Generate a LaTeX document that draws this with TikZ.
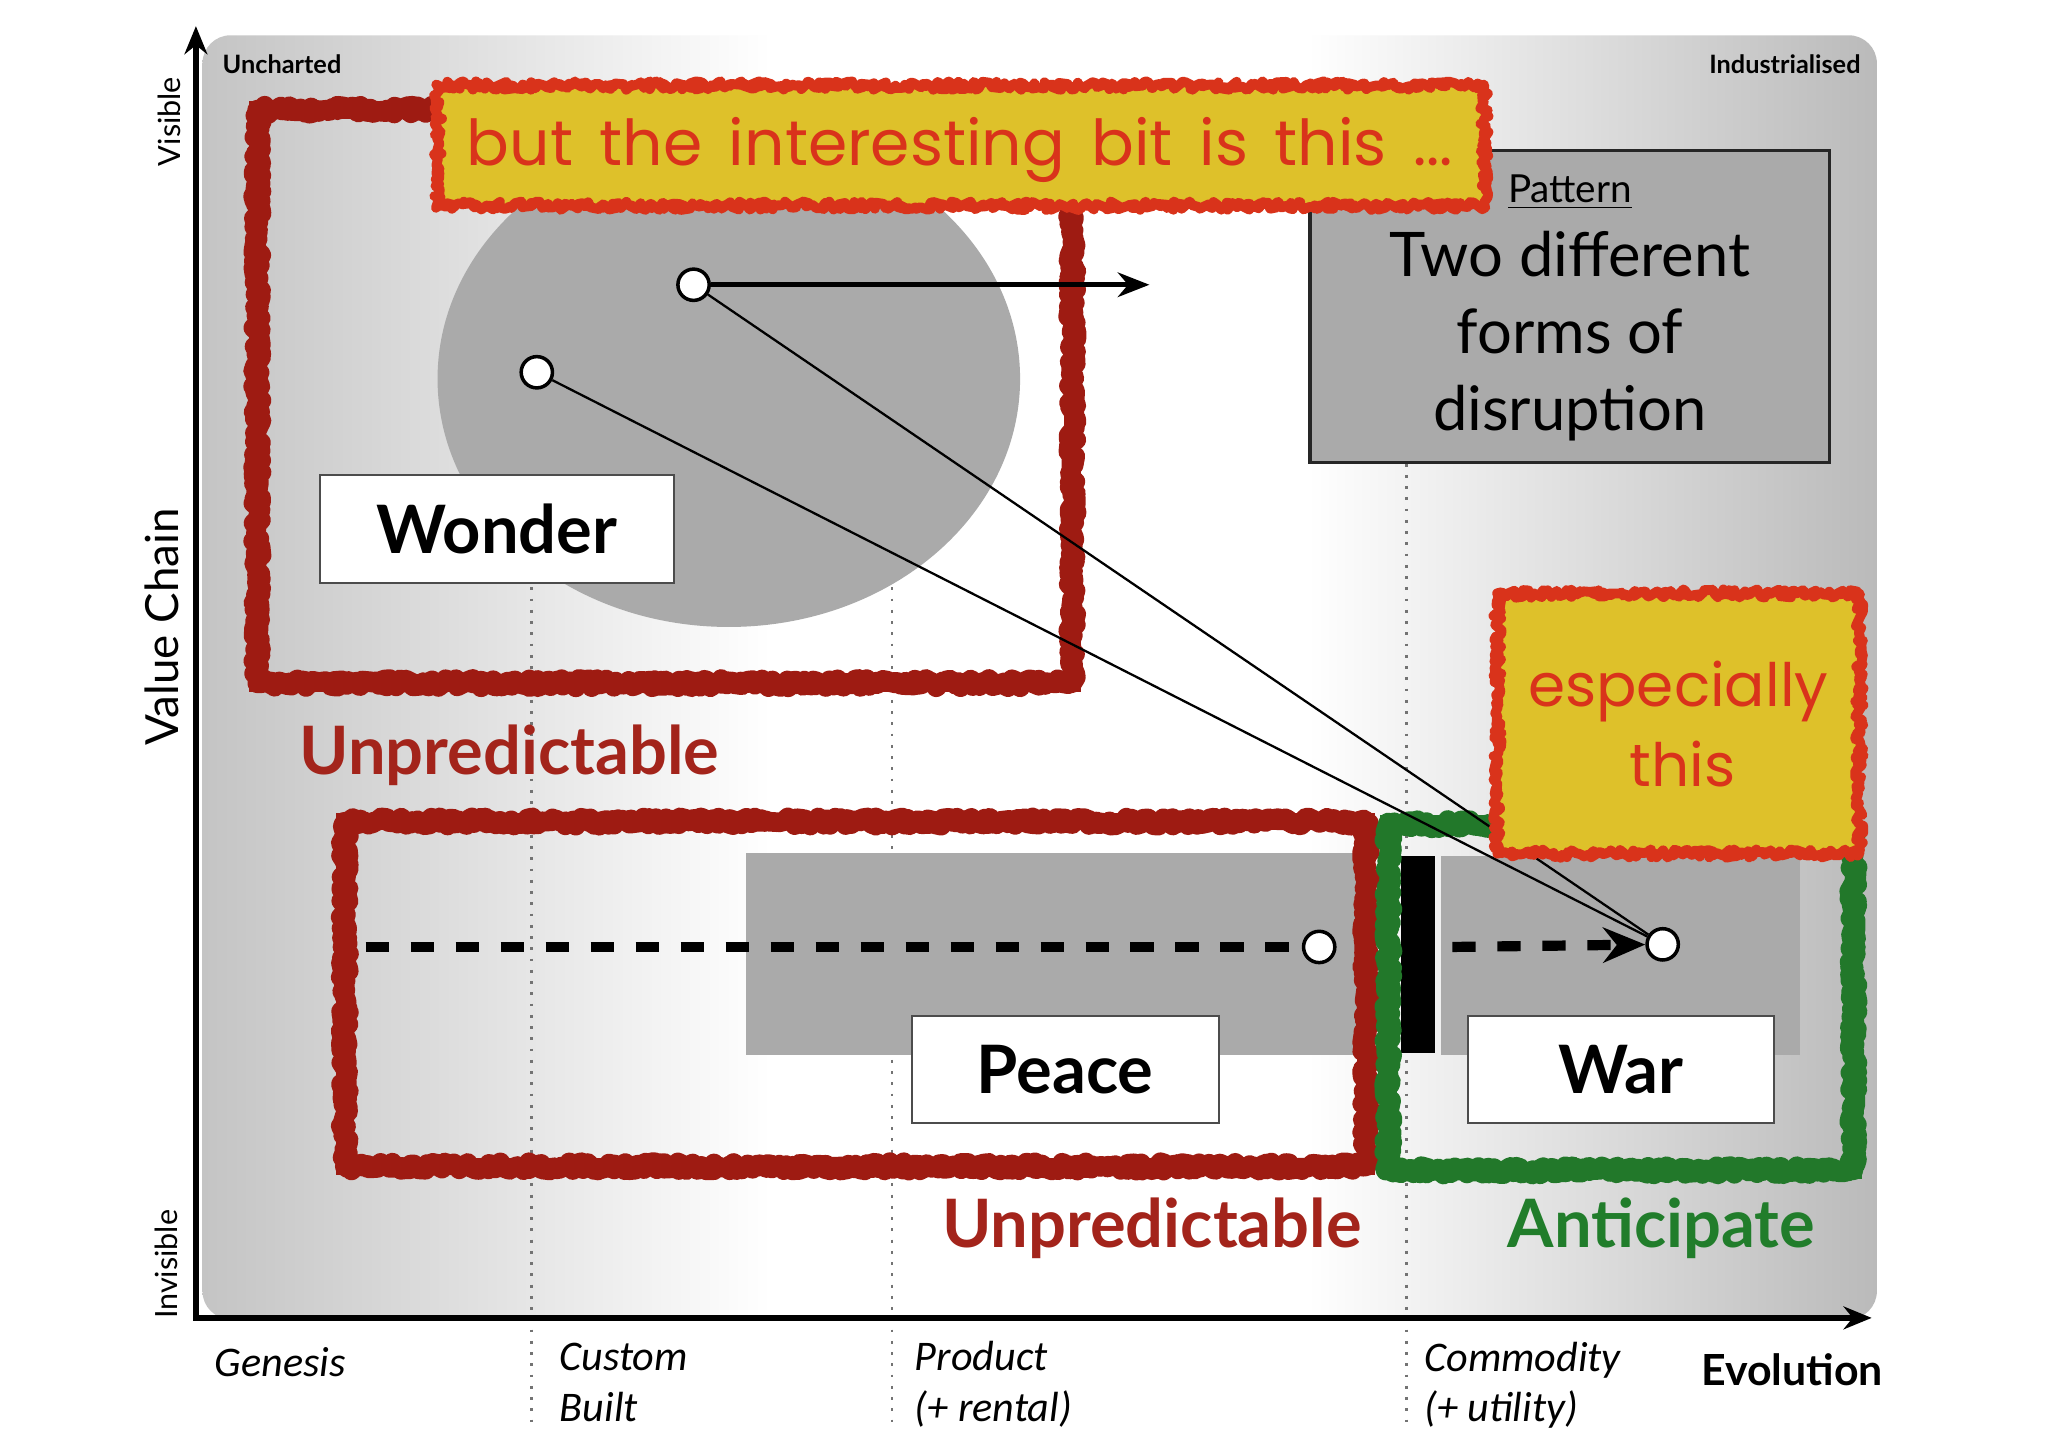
\documentclass[tikz,border=0pt]{standalone}
\usepackage{fontspec}
\setmainfont{Lato}
\newfontfamily\condit{Carlito}
\newfontfamily\chalk{Poppins}
\usetikzlibrary{arrows.meta,decorations.pathmorphing}
\definecolor{panelL}{HTML}{C4C4C4}
\definecolor{panelR}{HTML}{BABABA}
\definecolor{blobgrey}{HTML}{AAAAAA}
\definecolor{dred}{HTML}{9E1B12}
\definecolor{txtred}{HTML}{A3241B}
\definecolor{dgreen}{HTML}{22782A}
\definecolor{txtgreen}{HTML}{217D2B}
\definecolor{mustard}{HTML}{DEC12A}
\definecolor{brightred}{HTML}{D9331B}
\pgfdeclarehorizontalshading{panelshade}{100bp}{color(0bp)=(panelL); color(25bp)=(panelL); color(42bp)=(white); color(58bp)=(white); color(75bp)=(panelR); color(100bp)=(panelR)}
\newcommand\wsp{\hspace{0.42em}}
\begin{document}
\pgfmathsetseed{7}
\begin{tikzpicture}[x=0.01306cm, y=-0.01306cm,
  rough/.style={line width=#1, decorate, decoration={random steps, segment length=0.7pt, amplitude=1.2pt}, line join=round},
  dotline/.style={draw=black!55, line width=0.8pt, dash pattern=on 0.8pt off 2.4pt},
  wbox/.style={draw=black!70, line width=0.6pt, fill=white, inner sep=0pt, font=\fontsize{19}{22}\selectfont\bfseries},
  ybox/.style={fill=mustard, inner sep=0pt},
  chalktext/.style={text=brightred, font=\chalk\fontsize{18}{21}\selectfont},
  bigred/.style={text=txtred, font=\fontsize{19}{22}\selectfont\bfseries},
  pt/.style={circle, draw=black, line width=1pt, fill=white, minimum size=8.9pt, inner sep=0pt},
  thinline/.style={draw=black, line width=0.65pt},
  arrowline/.style={draw=black, line width=1.3pt, -{Stealth[length=9pt, width=7pt]}},
  dashline/.style={draw=black, line width=2.9pt, dash pattern=on 6.6pt off 6.2pt},
  axisline/.style={draw=black, line width=1.6pt, -{Stealth[length=8pt, width=6.5pt]}},
  axlbl/.style={font=\condit\itshape\fontsize{12}{14}\selectfont, anchor=base west, inner sep=0pt},
  tiny/.style={font=\fontsize{7.2}{8}\selectfont\bfseries, inner sep=0pt}
]
\useasboundingbox (0,0) rectangle (1568,1108);
\fill[white] (0,0) rectangle (1568,1108);
% panel
\path[shading=panelshade, rounded corners=8pt] (155,27) rectangle (1437,1010);
% dotted evolution lines
\foreach \x in {407,683,1077} \draw[dotline] (\x,355) -- (\x,1092);
% grey shapes
\fill[blobgrey] (558,290) ellipse [x radius=223, y radius=190];
\fill[blobgrey] (571,653) rectangle (1040,808);
\fill[blobgrey] (1103,655) rectangle (1378,808);
\fill[black] (1073,655) rectangle (1099,806);
% sketchy boxes
\draw[dred, line width=5pt] (197,84) rectangle (821,523);
\draw[dred, rough=5.6pt] (197,84) rectangle (821,523);
\draw[dred, line width=5pt] (264,629) rectangle (1046,893);
\draw[dred, rough=5.6pt] (264,629) rectangle (1046,893);
\draw[dgreen, line width=5pt] (1063,631) rectangle (1419,896);
\draw[dgreen, rough=5.6pt] (1063,631) rectangle (1419,896);
% white label boxes
\node[wbox, minimum width=100.7pt, minimum height=30.5pt] (wonder) at (380.5,405) {Wonder};
\node[wbox, minimum width=87.3pt, minimum height=30.5pt] (peace) at (815.5,819) {Peace};
\node[wbox, minimum width=87pt, minimum height=30.5pt] (war) at (1241,819) {War};
% pattern box
\node[draw=black!85, line width=0.9pt, fill=blobgrey, minimum width=147.9pt, minimum height=88.8pt, inner sep=0pt] (pattern) at (1202,234.5) {};
\node[font=\fontsize{11}{13}\selectfont] (patlbl) at (1202,147) {\underline{Pattern}};
\node[align=center, font=\fontsize{17.5}{21.9}\selectfont] (pattxt) at (1202,257) {Two different\\forms of\\disruption};
% points
\node[pt] (p1) at (531,218) {};
\node[pt] (p2) at (411,285) {};
\node[pt] (p3) at (1010,725) {};
\node[pt] (p4) at (1273,723) {};
\coordinate (a1end) at (880,218);
\coordinate (d1) at (280,725);
\coordinate (d2) at (1112,725);
% connectors
\draw[arrowline] (p1) -- (a1end);
\draw[thinline] (p1) -- (p4);
\draw[thinline] (p2) -- (p4);
\draw[dashline] (d1) -- (p3);
\draw[dashline, -{Stealth[length=12pt, width=10pt]}] (d2) -- (p4);
% yellow callouts
\node[ybox, minimum width=297.3pt, minimum height=33.8pt] (but) at (736,111.5) {};
\draw[brightred, rough=2.8pt] (but.north west) rectangle (but.south east);
\node[chalktext, anchor=base] (buttxt) at (735,127) {but\wsp the\wsp interesting\wsp bit\wsp is\wsp this\wsp ...};
\node[ybox, minimum width=102.6pt, minimum height=73.6pt] (esp) at (1285,554) {};
\draw[brightred, rough=2.8pt] (esp.north west) rectangle (esp.south east);
\node[chalktext, font=\chalk\fontsize{17}{20}\selectfont, anchor=base] (esptxt) at (1285,541) {especially};
\node[chalktext, font=\chalk\fontsize{17}{20}\selectfont, anchor=base] (thistxt) at (1288,602) {this};
% region labels
\node[bigred, anchor=base] (unp1) at (390,593) {Unpredictable};
\node[bigred, anchor=base] (unp2) at (882,955) {Unpredictable};
\node[text=txtgreen, font=\fontsize{19}{22}\selectfont\bfseries, anchor=base] (antic) at (1272,955) {Anticipate};
% axes
\draw[axisline] (150,1011) -- (150,20);
\draw[axisline] (148,1009) -- (1433,1009);
\node[tiny, anchor=base west] (unch) at (170,56) {Uncharted};
\node[tiny, anchor=base east] (indus) at (1425,56) {Industrialised};
\node[rotate=90, font=\fontsize{8.7}{10}\selectfont] (vis) at (130,93) {Visible};
\node[rotate=90, font=\fontsize{8.7}{10}\selectfont] (invis) at (127,968) {Invisible};
\node[rotate=90, font=\fontsize{13}{15}\selectfont] (vc) at (124,480) {Value Chain};
\node[axlbl] (gen) at (164,1054) {Genesis};
\node[axlbl] (cus1) at (428,1049) {Custom};
\node[axlbl] (cus2) at (428,1088) {Built};
\node[axlbl] (pro1) at (700,1049) {Product};
\node[axlbl] (pro2) at (700,1088) {(+ rental)};
\node[axlbl] (com1) at (1090,1050) {Commodity};
\node[axlbl] (com2) at (1090,1088) {(+ utility)};
\node[font=\fontsize{12.2}{14}\selectfont\bfseries, anchor=base west, inner sep=0pt] (evo) at (1302,1061) {Evolution};
\end{tikzpicture}
\end{document}
